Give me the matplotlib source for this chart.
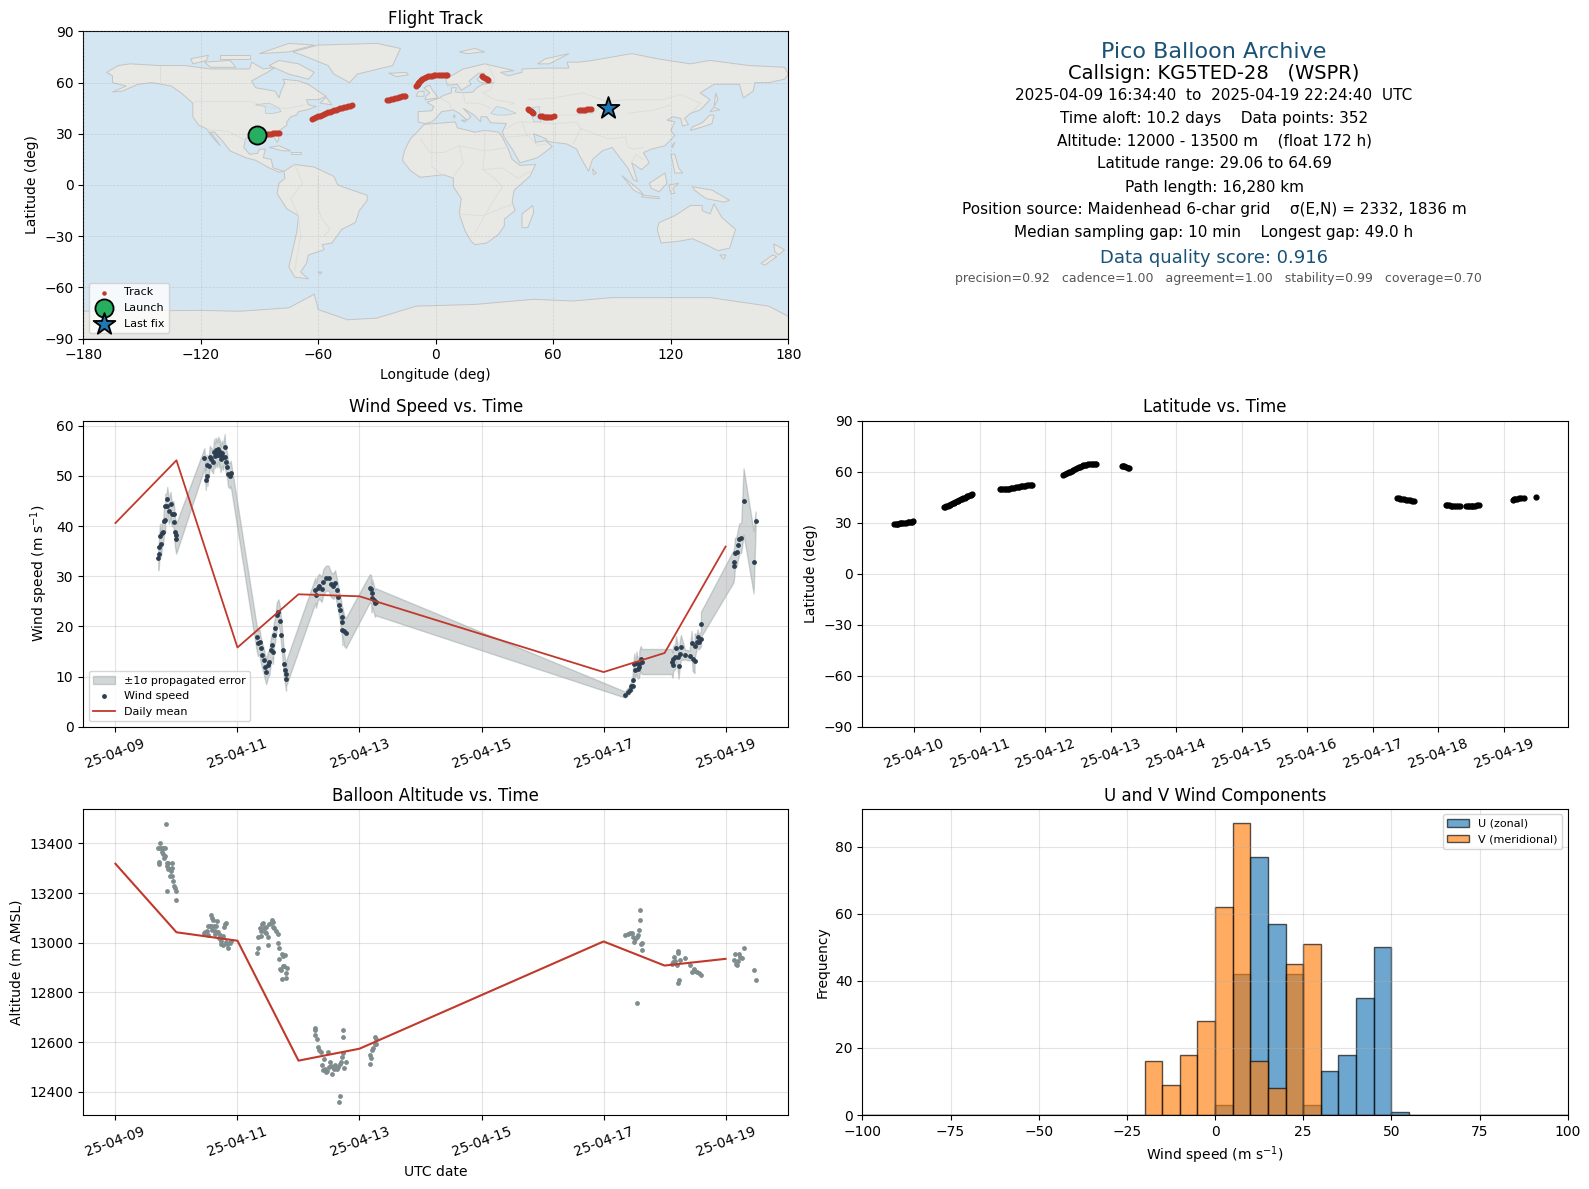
#!/usr/bin/env python3

import datetime as dt
import matplotlib
matplotlib.use('Agg')
import matplotlib.pyplot as plt
import matplotlib.dates as mdates
import numpy as np

# time is in days since 2025-04-09 00:00 UTC
# (t, wind speed, sigma)
wind_rows = [
  (.702,33.7,2.5),(.713,34.5,2.5),(.718,35.9,2.5),(.746,36.4,2.5),(.73,38,2.5),(.767,38.7,2.5),(.784,38.9,2.5),
  (.795,41,2.5),(.816,41.2,2.5),(.816,43.9,2.5),(.849,45.3,2.5),(.838,44,2.5),(.876,42.9,2.5),(.903,44.3,2.5),
  (.92,42.5,2.5),(.952,42.4,2.5),(.963,40.9,2.8),(.974,38.9,2.8),(.985,38.2,3),(.996,37.5,3),
  (1.458,53.5,2),(1.48,49.2,2),(1.507,50,2),(1.497,52.2,2),(1.529,52,2),(1.546,53.8,2.2),(1.573,53.3,2.2),
  (1.6,52.8,2.3),(1.616,54.8,2.5),(1.63,54,2.5),(1.643,55.1,2.5),(1.655,54.6,2.5),(1.665,54.2,2.5),(1.675,54.9,2.5),
  (1.687,55.3,2.5),(1.7,54.2,2.5),(1.709,54.8,2.5),(1.725,53.3,2.5),(1.735,54.1,2.5),(1.747,54.5,2.5),(1.763,53.7,2.5),
  (1.79,55.8,2.5),(1.8,53.7,2.5),(1.818,52.8,2.5),(1.834,51.7,2.5),(1.845,50.4,2.5),(1.872,50,2.5),(1.889,50.5,2.5),
  (2.313,17.8,2.5),(2.335,16.6,2.5),(2.362,16.9,2.5),(2.378,15.6,2.5),(2.4,14.3,2.5),(2.427,13.3,2.5),(2.449,12,2.5),
  (2.471,11,2.5),(2.498,12.3,2.5),(2.525,13,2.5),(2.547,15.3,2.5),(2.57,16.3,2.5),(2.58,15,2.5),(2.596,18.2,2.5),
  (2.618,19.6,2.5),(2.645,22.3,2.5),(2.672,22.9,2.5),(2.7,21.1,2.5),(2.72,18.3,2.5),(2.743,15.3,2.5),(2.76,12.6,2.5),
  (2.776,11.3,2.5),(2.797,10.6,2.5),(2.797,9.6,2.4),
  (3.276,27.2,2.5),(3.287,26.2,2.5),(3.314,27.6,2.5),(3.34,28,2.5),(3.38,27.4,2.5),(3.407,28.9,2.5),(3.45,29.6,2.5),
  (3.494,29.6,2.5),(3.53,28.4,2.5),(3.57,28,2.5),(3.6,28.7,2.5),(3.625,27.2,2.5),(3.646,25.9,2.5),(3.668,24.3,2.6),
  (3.684,23.3,2.7),(3.706,21.9,2.8),(3.72,20.9,2.9),(3.72,19.3,3),(3.75,19.1,3),(3.777,18.7,3),
  (4.169,27.6,2.8),(4.19,27.4,2.8),(4.21,26.6,2.8),(4.2,25.6,2.8),(4.24,25.2,2.7),(4.266,24.9,2.7),(4.255,24.6,2.7),
  (8.355,6.4,.6),(8.393,7,.7),(8.43,7.3,.7),(8.448,8.2,.8),(8.475,8.2,.9),(8.475,9.4,1),(8.519,11.3,1.5),(8.557,11.6,2),
  (8.585,12,2.2),(8.503,12.6,2),(8.54,12.8,2.2),(8.585,12.6,2.4),(8.628,13,2.5),(8.607,13.6,2.5),
  (9.115,13,2.5),(9.131,12.3,2.5),(9.142,13.6,2.5),(9.175,14,2.5),(9.186,15.6,2.5),(9.213,14,2.5),(9.23,12.1,2.5),
  (9.25,14.6,2.5),(9.268,15.8,2.5),(9.333,14.4,1),(9.41,14.2,1),(9.443,16.6,2.5),(9.46,13.6,2.5),(9.492,13.2,2.5),
  (9.492,16.1,2.5),(9.525,16.9,1.5),(9.54,17.9,1.5),(9.557,16.9,1.5),(9.596,17.5,1.5),(9.596,20.4,2.5),
  (10.131,32,3.2),(10.142,32.9,3),(10.153,34.6,3),(10.18,34.9,3),(10.2,36.2,3),(10.224,37.5,3),(10.257,37.7,3),
  (10.295,44.9,6.6),(10.459,32.8,6.2),(10.492,41.1,1.8),
]

# (t, altitude)
alt_rows = [
  (.702,13380),(.729,13380),(.756,13380),(.784,13380),(.816,13380),(.735,13400),(.756,13367),(.784,13356),(.816,13349),
  (.795,13343),(.718,13326),(.718,13318),(.838,13322),(.865,13322),(.92,13320),(.849,13309),(.865,13296),(.893,13296),
  (.931,13300),(.903,13289),(.893,13269),(.931,13269),(.947,13249),(.958,13229),(.974,13220),(.985,13209),(.849,13209),
  (.996,13171),(.833,13480),
  (1.448,13038),(1.475,13042),(1.502,13048),(1.518,13068),(1.546,13068),(1.573,13113),(1.584,13099),(1.6,13091),
  (1.573,13068),(1.611,13068),(1.654,13068),(1.665,13088),(1.627,13048),(1.654,13042),(1.682,13042),(1.709,13032),
  (1.725,13008),(1.741,13022),(1.763,13027),(1.731,12995),(1.763,12992),(1.79,13075),(1.818,13079),(1.774,13062),
  (1.807,13002),(1.834,12995),(1.85,12979),(1.872,12998),(1.889,13006),(1.52,13030),(1.59,13050),(1.64,13035),(1.69,13020),
  (2.313,12957),(2.335,12979),(2.34,13022),(2.362,13059),(2.378,13028),(2.395,13075),(2.422,13078),(2.389,13048),
  (2.444,13042),(2.471,13038),(2.498,12992),(2.498,13024),(2.525,13075),(2.563,13091),(2.58,13062),(2.607,13059),
  (2.634,13048),(2.661,13035),(2.667,12998),(2.678,12979),(2.688,12935),(2.699,12895),(2.732,12955),(2.754,12948),
  (2.781,12952),(2.743,12908),(2.77,12908),(2.808,12897),(2.716,12891),(2.732,12854),(2.797,12879),(2.797,12859),
  (2.55,13078),(2.59,13085),(2.43,13060),(2.46,13065),
  (3.265,12658),(3.271,12650),(3.276,12627),(3.298,12614),(3.314,12580),(3.331,12567),(3.369,12560),(3.412,12530),
  (3.385,12507),(3.407,12487),(3.45,12480),(3.488,12560),(3.516,12520),(3.543,12471),(3.559,12500),(3.592,12507),
  (3.625,12490),(3.657,12360),(3.673,12383),(3.695,12520),(3.712,12540),(3.722,12650),(3.722,12621),(3.722,12554),
  (3.75,12494),(3.777,12520),(3.43,12490),(3.47,12485),(3.5,12500),(3.53,12505),(3.58,12490),(3.64,12500),(3.68,12510),
  (4.18,12510),(4.169,12547),(4.19,12534),(4.212,12567),(4.229,12574),(4.25,12621),(4.267,12614),(4.25,12594),(4.278,12591),
  (8.355,13031),(8.393,13035),(8.432,13039),(8.459,13038),(8.475,13022),(8.492,13002),(8.514,13015),(8.541,13022),
  (8.557,13032),(8.574,13051),(8.59,13091),(8.59,13131),(8.607,12995),(8.628,12998),(8.623,12971),(8.546,12758),
  (9.115,12915),(9.131,12922),(9.158,12942),(9.175,12928),(9.197,12912),(9.213,12968),(9.213,12957),(9.251,12931),
  (9.213,12838),(9.235,12851),(9.328,12939),(9.41,12912),(9.448,12881),(9.475,12895),(9.503,12888),(9.525,12881),
  (9.557,12877),(9.596,12871),
  (10.131,12932),(10.153,12955),(10.169,12915),(10.18,12911),(10.197,12928),(10.224,12955),(10.24,12944),(10.262,12939),
  (10.295,12979),(10.459,12891),(10.492,12851),
]

# (t, latitude)
lat_rows = [
  (.70,29.06),(.72,29.2),(.74,29.3),(.76,29.5),(.78,29.7),(.80,29.8),(.82,29.9),(.85,30),(.87,30.1),(.90,30.2),(.92,30.3),(.95,30.5),(.97,30.6),(.99,30.8),
  (1.45,39),(1.47,39.3),(1.49,39.6),(1.51,40),(1.53,40.3),(1.55,40.6),(1.57,41),(1.59,41.4),(1.61,41.8),(1.63,42.2),(1.65,42.6),(1.67,43),
  (1.69,43.3),(1.71,43.7),(1.73,44.1),(1.75,44.5),(1.77,44.8),(1.79,45.2),(1.81,45.5),(1.83,45.8),(1.85,46.1),(1.87,46.5),(1.89,46.9),
  (2.31,50.1),(2.33,50),(2.36,50),(2.38,50),(2.40,50),(2.43,50),(2.45,50),(2.48,50.2),(2.5,50.3),(2.53,50.5),(2.55,50.7),(2.58,50.9),(2.6,51.1),
  (2.63,51.3),(2.65,51.4),(2.68,51.6),(2.7,51.7),(2.73,52),(2.75,52.1),(2.78,52.2),(2.80,52.3),
  (3.27,58),(3.30,58.5),(3.33,59),(3.36,59.6),(3.38,60),(3.41,60.6),(3.43,61),(3.46,61.6),(3.48,62),(3.51,62.6),(3.53,63),(3.56,63.4),(3.58,63.7),
  (3.61,64),(3.63,64.1),(3.66,64.3),(3.68,64.4),(3.71,64.5),(3.73,64.6),(3.76,64.65),(3.78,64.69),
  (4.17,63.5),(4.19,63.3),(4.21,63.1),(4.24,62.7),(4.26,62.4),(4.28,62.2),
  (8.38,44.3),(8.40,44.3),(8.42,44.2),(8.45,44),(8.48,43.8),(8.51,43.6),(8.54,43.4),(8.57,43.2),(8.6,43),(8.63,43),
  (9.12,40.5),(9.14,40.3),(9.17,40.2),(9.2,40.1),(9.22,40.1),(9.25,40),(9.28,40),(9.3,39.9),(9.33,39.9),(9.42,39.9),(9.45,39.9),(9.47,39.9),
  (9.5,40),(9.52,40),(9.54,40),(9.56,40.1),(9.6,40.4),(9.62,40.6),
  (10.14,43.6),(10.16,43.8),(10.18,44),(10.21,44.1),(10.24,44.3),(10.27,44.4),(10.31,44.6),(10.5,45.3),
]

daily_days = [0, 1, 2, 3, 4, 8, 9, 10]
daily_wind = [40.6, 53.1, 15.8, 26.4, 26.0, 10.9, 14.7, 35.9]
daily_alt = [13318, 13042, 13008, 12525, 12573, 13005, 12908, 12935]

track_lon = [-91,-90,-89,-88,-87,-86,-85,-84,-83,-82,-81,-80,
  -63,-62,-61,-60,-59,-58,-57,-56,-55,-54,-53,-52,-51,-50,-49,-48,-47,-46,-45,-44,-43,
  -24.7,-24,-23,-22,-21,-20,-19,-18,-17,-16,-15.7,
  -10,-9.7,-9.3,-9,-8.5,-8,-7.5,-7,-6,-5,-4,-3,-2,-1,-.3,1,2,3,4,5,5.7,
  23.4,24,25,26,26.7,
  47.3,47.8,48.5,49,49.4,
  53,54,55,56.3,57,58,59,60.2,
  73,74,75,76,77,78,79.4]
track_lat = [29.1,29.2,29.4,29.5,29.7,29.8,30,30.1,30.3,30.4,30.5,30.7,
  38.9,39.3,39.8,40.2,40.7,41.1,41.6,42,42.5,42.9,43.4,43.7,44.1,44.5,44.9,45.2,45.6,45.9,46.2,46.5,46.9,
  49.6,49.9,50.2,50.5,50.7,51,51.3,51.6,51.9,52.1,52.3,
  57.8,58.5,59.2,60,60.5,61,61.5,62,62.6,63,63.7,63.9,64.1,64.3,64.4,64.5,64.5,64.5,64.5,64.5,64.5,
  63.7,63.4,62.8,62.2,61.7,
  44.7,44,43.4,42.8,42.2,
  40.6,40.2,40,39.8,39.8,39.9,40,40.2,
  43.8,43.9,44.1,44.2,44.4,44.5,44.7]
launch_lon, launch_lat = -91.3, 29.5
last_lon, last_lat = 87.9, 45.1

bin_edges = np.arange(-100, 105, 5)
u_lefts = [0, 5, 10, 15, 20, 25, 30, 35, 40, 45, 50]
u_counts = [3, 42, 77, 57, 42, 3, 13, 18, 35, 50, 1]
v_lefts = [-20, -15, -10, -5, 0, 5, 10, 15, 20, 25]
v_counts = [16, 9, 18, 28, 62, 87, 16, 8, 45, 51]

info_lines = [
  '2025-04-09 16:34:40  to  2025-04-19 22:24:40  UTC',
  'Time aloft: 10.2 days    Data points: 352',
  'Altitude: 12000 - 13500 m    (float 172 h)',
  'Latitude range: 29.06 to 64.69',
  'Path length: 16,280 km',
  'Position source: Maidenhead 6-char grid    σ(E,N) = 2332, 1836 m',
  'Median sampling gap: 10 min    Longest gap: 49.0 h',
]

# rough coastlines, lon/lat
land = [
  # north america
  [(-168,66),(-162,70),(-156,71),(-141,70),(-128,70),(-115,68),(-108,68),(-95,68),(-94,72),(-88,68),(-82,69),(-86,66),(-94,61),
   (-92,57),(-82,55),(-80,51),(-79,55),(-77,60),(-78,62),(-70,61),(-65,59),(-60,55),(-56,52),(-60,50),(-66,50),(-65,47),(-61,46),
   (-66,44),(-70,43),(-71,41),(-74,40),(-76,37),(-76,35),(-81,31),(-80,27),(-81,25),(-83,29),(-89,30),(-94,29),(-97,27),(-98,22),
   (-95,18),(-91,18.5),(-90,21),(-87,21),(-88,16),(-84,15),(-83,10),(-80,9),(-77.5,8),(-80,7.5),(-85,10),(-92,14.5),(-97,16),
   (-105,20),(-109,26),(-113,31),(-115,31),(-110,23),(-114,28),(-117,33),(-121,35),(-124,40),(-124,48),(-130,54),(-135,58),
   (-145,60),(-152,59),(-160,55),(-165,54.5),(-158,58),(-165,60),(-165,64)],
  # south america
  [(-77.5,8),(-72,12),(-62,10.5),(-52,5),(-50,0),(-44,-2.5),(-35,-6),(-35,-9),(-39,-15),(-41,-22),(-48,-26),(-53,-34),(-58,-35),
   (-57,-38),(-65,-41),(-66,-46),(-69,-51),(-65,-55),(-72,-54),(-75,-48),(-73,-38),(-71,-28),(-70,-18),(-76,-14),(-81,-5),(-80,1),(-77,4)],
  # africa
  [(-6,35.5),(10,37),(11,33.5),(20,31),(25,32),(32,31),(34,28),(37,21),(39,15),(43,11.5),(51,12),(48,5),(40,-3),(39,-10),(40.5,-15),
   (35,-20),(35,-24),(32,-29),(26,-34),(20,-35),(18,-33),(15,-27),(12,-17),(13,-8),(9,-1),(9,4),(4,6),(-4,5),(-8,4.5),(-13,8.5),
   (-17,14.5),(-16,20),(-13,27),(-9.5,31)],
  # eurasia
  [(-9,37),(-9,43),(-2,43.5),(-1,46),(-4.5,48.5),(2,51),(4,52.5),(8,54),(8,57),(10.5,57),(10,54.5),(14,54),(19,54.5),(21,57),(24,59),
   (30,60),(23,60),(21,62),(25,65.5),(22,65.5),(17,61),(18,59),(13,55.5),(11,59),(6,58.5),(5,62),(14,68),(25,71),(40,67),(33,66),
   (37,64),(44,66),(44,68),(55,68.5),(68,68.5),(67,72),(73,72),(80,73),(100,77),(113,74),(130,71),(140,73),(160,70),(178,69),(180,65),
   (178,62),(170,60),(163,60),(162,55),(157,51),(155,59),(142,59),(135,54),(140,50),(135,44),(130,42),(127,39),(129,35.5),(126,34.5),
   (125,39),(121,40),(118,38),(122,37),(120,32),(122,29),(117,23),(110,21),(106,19),(109,13),(105,9),(100,13),(103,2),(101,3),(98,10),
   (94,16),(90,22),(85,20),(80,15),(78,8),(73,18),(72,21),(67,24),(57,25.5),(56.5,27),(50,30),(51,25),(56,26),(59.5,22.5),(52,16),
   (43,13),(39,21),(35,28),(34,31),(36,36),(28,36.5),(26,40),(23,40),(23,37),(19.5,41),(14,45),(18,40),(16,38),(12,42),(9,44),(3,43),
   (0,39),(-2,37),(-5.5,36)],
  # greenland
  [(-73,78),(-60,82),(-30,83),(-18,80),(-22,70),(-40,65),(-44,60),(-52,65),(-55,70),(-68,76)],
  # australia, tasmania, nz
  [(114,-22),(122,-18),(130,-12),(136,-12),(136,-15),(140,-17),(142,-11),(146,-19),(153,-26),(150,-37),(144,-38.5),(138,-35),
   (131,-31.5),(124,-33),(115,-34),(113,-26)],
  [(145,-41),(148,-41),(147,-43.5)],
  [(172.5,-34.5),(178,-38),(175,-41),(173,-39)],
  [(172,-41),(174,-42),(168,-47),(166,-46)],
  # antarctica
  [(-180,-90),(-180,-74),(-120,-73.5),(-100,-74),(-75,-72),(-62,-64),(-60,-73),(-45,-79),(-30,-78),(-10,-71),(20,-70),(50,-67),
   (70,-68),(90,-66),(120,-66),(140,-66),(170,-71),(180,-77),(180,-90)],
  # islands
  [(49.5,-12),(50,-16),(47,-25),(44,-25),(44,-17)],
  [(-5.5,50),(1,51),(0,53),(-2,56),(-3,58.5),(-6,57),(-3,54),(-5,52)],
  [(-10,52),(-6,52),(-6,55),(-9,54.5)],
  [(-24,65.5),(-15,66),(-14,64.5),(-20,63.5)],
  [(130,32),(136,34),(141,36),(142,41),(140,41),(136,36.5),(131,34)],
  [(140,43),(145,44),(142,45.5)],
  [(95,5.5),(104,-3),(106,-6),(101,-3)],
  [(109,1),(117,7),(118,1),(114,-4),(110,-2)],
  [(105,-7),(114,-8),(114,-7),(106,-6)],
  [(119,0),(124,1),(121,-2),(122,-5),(120,-5)],
  [(131,-1),(141,-3),(150,-9),(147,-10),(138,-8),(132,-3)],
  [(120,18),(122,18),(124,10),(126,7),(122,7),(121,13)],
  [(-85,22),(-80,23),(-74,20),(-78,20)],
  [(-74,19.5),(-69,19.5),(-69,18),(-74,18)],
  [(-80,73),(-70,71),(-62,66),(-65,62),(-75,65),(-85,70)],
  [(-118,72),(-105,73),(-102,69),(-115,69)],
  [(-90,77),(-75,83),(-62,82),(-75,78)],
  [(-125,74),(-116,76),(-117,73),(-124,71)],
  [(-110,76),(-95,76),(-95,74),(-110,74)],
  [(-59,48),(-53,47),(-56,51.5)],
  [(52,71),(56,74),(68,77),(58,71)],
  [(12,78),(20,80),(25,78),(16,77)],
  [(80,9.5),(82,7),(80.5,6)],
  [(120.5,23),(122,25),(121,22)],
  [(142,46),(143,54),(144,50)],
  [(-60,-51),(-58,-51),(-59,-52.3)],
  [(9,41),(9.8,41),(9.5,39)],
  [(13,38),(15.5,38),(15,36.8)],
]

# inland water drawn back on top of the land
lakes = [
  [(28,42),(31,46),(35,45),(41,42),(36,41),(31,41)],
  [(47,45),(53,46),(53,40),(54,37),(50,37),(49,40.5)],
  [(-92,47),(-85,48),(-80,45),(-79,43),(-83,42),(-87,42),(-87,46)],
]

borders = [
  [(-123,49),(-95,49),(-83,45),(-75,45),(-67,47)],
  [(-117,32.5),(-106,31.5),(-97,26)],
  [(-141,70),(-141,60)],
  [(-72,12),(-68,1),(-74,-8),(-70,-18),(-69,-30),(-72,-50)],
  [(-60,5),(-60,-14),(-58,-20),(-54,-26),(-57,-30)],
  [(-8,27),(-3,19),(4,19),(12,23),(25,20),(37,22)],
  [(25,32),(25,20),(24,9),(30,4),(34,-1),(30,-8),(25,-18),(20,-28)],
  [(-2,35),(-2,11),(3,6)],
  [(12,23),(14,13),(9,5)],
  [(24,9),(34,10),(42,4),(48,8)],
  [(12,-17),(24,-18),(33,-14),(40,-11)],
  [(2,51),(7,48),(8,44)],
  [(14,54),(15,48),(22,48),(28,45)],
  [(24,54),(30,50),(40,48),(38,47)],
  [(27,70),(30,62),(28,56),(24,54)],
  [(47,50),(60,51),(75,54),(87,49),(98,50),(116,50),(125,53),(135,48),(131,43)],
  [(53,42),(61,41),(70,41),(80,42),(87,49)],
  [(44,37),(46,30),(48,30)],
  [(36,33),(42,37),(44,37),(61,36),(61,25)],
  [(61,36),(72,37),(74,33),(70,24)],
  [(74,33),(79,31),(88,27),(97,28),(98,22),(101,21),(106,22)],
  [(35,28),(47,29),(52,23),(56,24)],
  [(98,42),(112,44),(120,47)],
  [(100,13),(102,18),(106,15)],
]

W, H = 1568., 1173.
def place(fig, x0, x1, y0, y1):
  # position given in pixels of the finished picture, top-left origin
  return fig.add_axes([x0/W, 1 - y1/H, (x1 - x0)/W, (y1 - y0)/H])

def to_date(days):
  return mdates.date2num(dt.datetime(2025, 4, 9)) + np.asarray(days, dtype=float)

if __name__ == "__main__":
  fig = plt.figure(figsize=(15.89, 11.89), dpi=100)
  red = '#c0392b'
  navy = '#2c3e50'
  slate = '#7f8c8d'
  blue_title = '#1a5276'
  date_fmt = mdates.DateFormatter('%y-%m-%d')

  ## map
  ax = place(fig, 82, 778, 31, 334)
  ax.set_facecolor('#d4e6f1')
  for poly in land:
    ax.fill(*zip(*poly), facecolor='#e8e8e4', edgecolor='#c4c4c4', lw=0.7, zorder=1)
  for poly in lakes:
    ax.fill(*zip(*poly), facecolor='#d4e6f1', edgecolor='#c4c4c4', lw=0.5, zorder=1.2)
  for line in borders:
    ax.plot(*zip(*line), color='#dcdcd8', lw=0.6, zorder=1.3)
  ax.grid(True, color='#999999', alpha=0.3, lw=0.5, ls='--', zorder=2)
  ax.set_axisbelow(False)
  ax.scatter(track_lon, track_lat, s=11, color=red, label='Track', zorder=3)
  ax.scatter([launch_lon], [launch_lat], s=170, color='#27ae60', edgecolor='k', lw=1.3, label='Launch', zorder=4)
  ax.scatter([last_lon], [last_lat], s=270, marker='*', color='#1f77b4', edgecolor='k', lw=1.3, label='Last fix', zorder=4)
  ax.set_xlim(-180, 180)
  ax.set_ylim(-90, 90)
  ax.set_xticks(np.arange(-180, 181, 60))
  ax.set_yticks(np.arange(-90, 91, 30))
  ax.set_xlabel('Longitude (deg)')
  ax.set_ylabel('Latitude (deg)')
  ax.set_title('Flight Track', fontsize=12, pad=5)
  leg = ax.legend(loc='lower left', fontsize=8)
  leg.legend_handles[0].set_sizes([5])

  ## info block
  cx = 1198/W
  fig.text(cx, 1 - 51/H, 'Pico Balloon Archive', ha='center', va='center', fontsize=16, color=blue_title)
  fig.text(cx, 1 - 73/H, 'Callsign: KG5TED-28   (WSPR)', ha='center', va='center', fontsize=14)
  for y, line in zip([94, 116.5, 139.5, 161.5, 184.5, 207, 229.5], info_lines):
    fig.text(cx, 1 - y/H, line, ha='center', va='center', fontsize=11)
  fig.text(cx, 1 - 255/H, 'Data quality score: 0.916', ha='center', va='center', fontsize=13, color=blue_title)
  fig.text(1202/W, 1 - 275/H, 'precision=0.92   cadence=1.00   agreement=1.00   stability=0.99   coverage=0.70',
           ha='center', va='center', fontsize=9, color='#555555')

  ## wind speed
  wind = np.array(sorted(wind_rows))
  ax = place(fig, 82, 778, 415, 717)
  ax.fill_between(to_date(wind[:,0]), wind[:,1] - wind[:,2], wind[:,1] + wind[:,2], color=slate, alpha=0.35,
                  label='±1σ propagated error')
  ax.scatter(to_date(wind[:,0]), wind[:,1], s=6, color=navy, label='Wind speed', zorder=3)
  ax.plot(to_date(daily_days), daily_wind, color=red, lw=1.3, label='Daily mean', zorder=4)
  ax.set_xlim(to_date(-0.53), to_date(11.03))
  ax.set_ylim(0, 61)
  ax.set_xticks(to_date(np.arange(0, 11, 2)))
  ax.xaxis.set_major_formatter(date_fmt)
  ax.tick_params(axis='x', rotation=20)
  ax.grid(True, alpha=0.35)
  ax.set_ylabel(r'Wind speed (m s$^{-1}$)')
  ax.set_title('Wind Speed vs. Time', fontsize=12)
  ax.legend(loc='lower left', fontsize=8)

  ## latitude
  lat = np.array(lat_rows)
  ax = place(fig, 851, 1547, 415, 717)
  ax.scatter(to_date(lat[:,0]), lat[:,1], s=12, color='k', zorder=3)
  ax.set_xlim(to_date(1 - 0.79), to_date(10 + 0.98))
  ax.set_ylim(-90, 90)
  ax.set_yticks(np.arange(-90, 91, 30))
  ax.set_xticks(to_date(np.arange(1, 11)))
  ax.xaxis.set_major_formatter(date_fmt)
  ax.tick_params(axis='x', rotation=20)
  ax.grid(True, alpha=0.35)
  ax.set_ylabel('Latitude (deg)')
  ax.set_title('Latitude vs. Time', fontsize=12)

  ## altitude
  alt = np.array(alt_rows)
  ax = place(fig, 82, 778, 798, 1100)
  ax.scatter(to_date(alt[:,0]), alt[:,1], s=6, color=slate, zorder=3)
  ax.plot(to_date(daily_days), daily_alt, color=red, lw=1.5, zorder=4)
  ax.set_xlim(to_date(-0.53), to_date(11.03))
  ax.set_ylim(12306, 13539)
  ax.set_yticks(np.arange(12400, 13401, 200))
  ax.set_xticks(to_date(np.arange(0, 11, 2)))
  ax.xaxis.set_major_formatter(date_fmt)
  ax.tick_params(axis='x', rotation=20)
  ax.grid(True, alpha=0.35)
  ax.set_xlabel('UTC date')
  ax.set_ylabel('Altitude (m AMSL)')
  ax.set_title('Balloon Altitude vs. Time', fontsize=12)

  ## u/v histogram
  ax = place(fig, 851, 1547, 798, 1100)
  ax.hist(u_lefts, bins=bin_edges, weights=u_counts, color='#1f77b4', alpha=0.65, edgecolor='k', label='U (zonal)')
  ax.hist(v_lefts, bins=bin_edges, weights=v_counts, color='#ff7f0e', alpha=0.65, edgecolor='k', label='V (meridional)')
  ax.set_xlim(-100, 100)
  ax.set_xticks(np.arange(-100, 101, 25))
  ax.set_yticks(np.arange(0, 81, 20))
  ax.grid(True, alpha=0.35)
  ax.set_xlabel(r'Wind speed (m s$^{-1}$)')
  ax.set_ylabel('Frequency')
  ax.set_title('U and V Wind Components', fontsize=12)
  ax.legend(loc='upper right', fontsize=8)

  fig.savefig('out.png', dpi=100)
  plt.close('all')
